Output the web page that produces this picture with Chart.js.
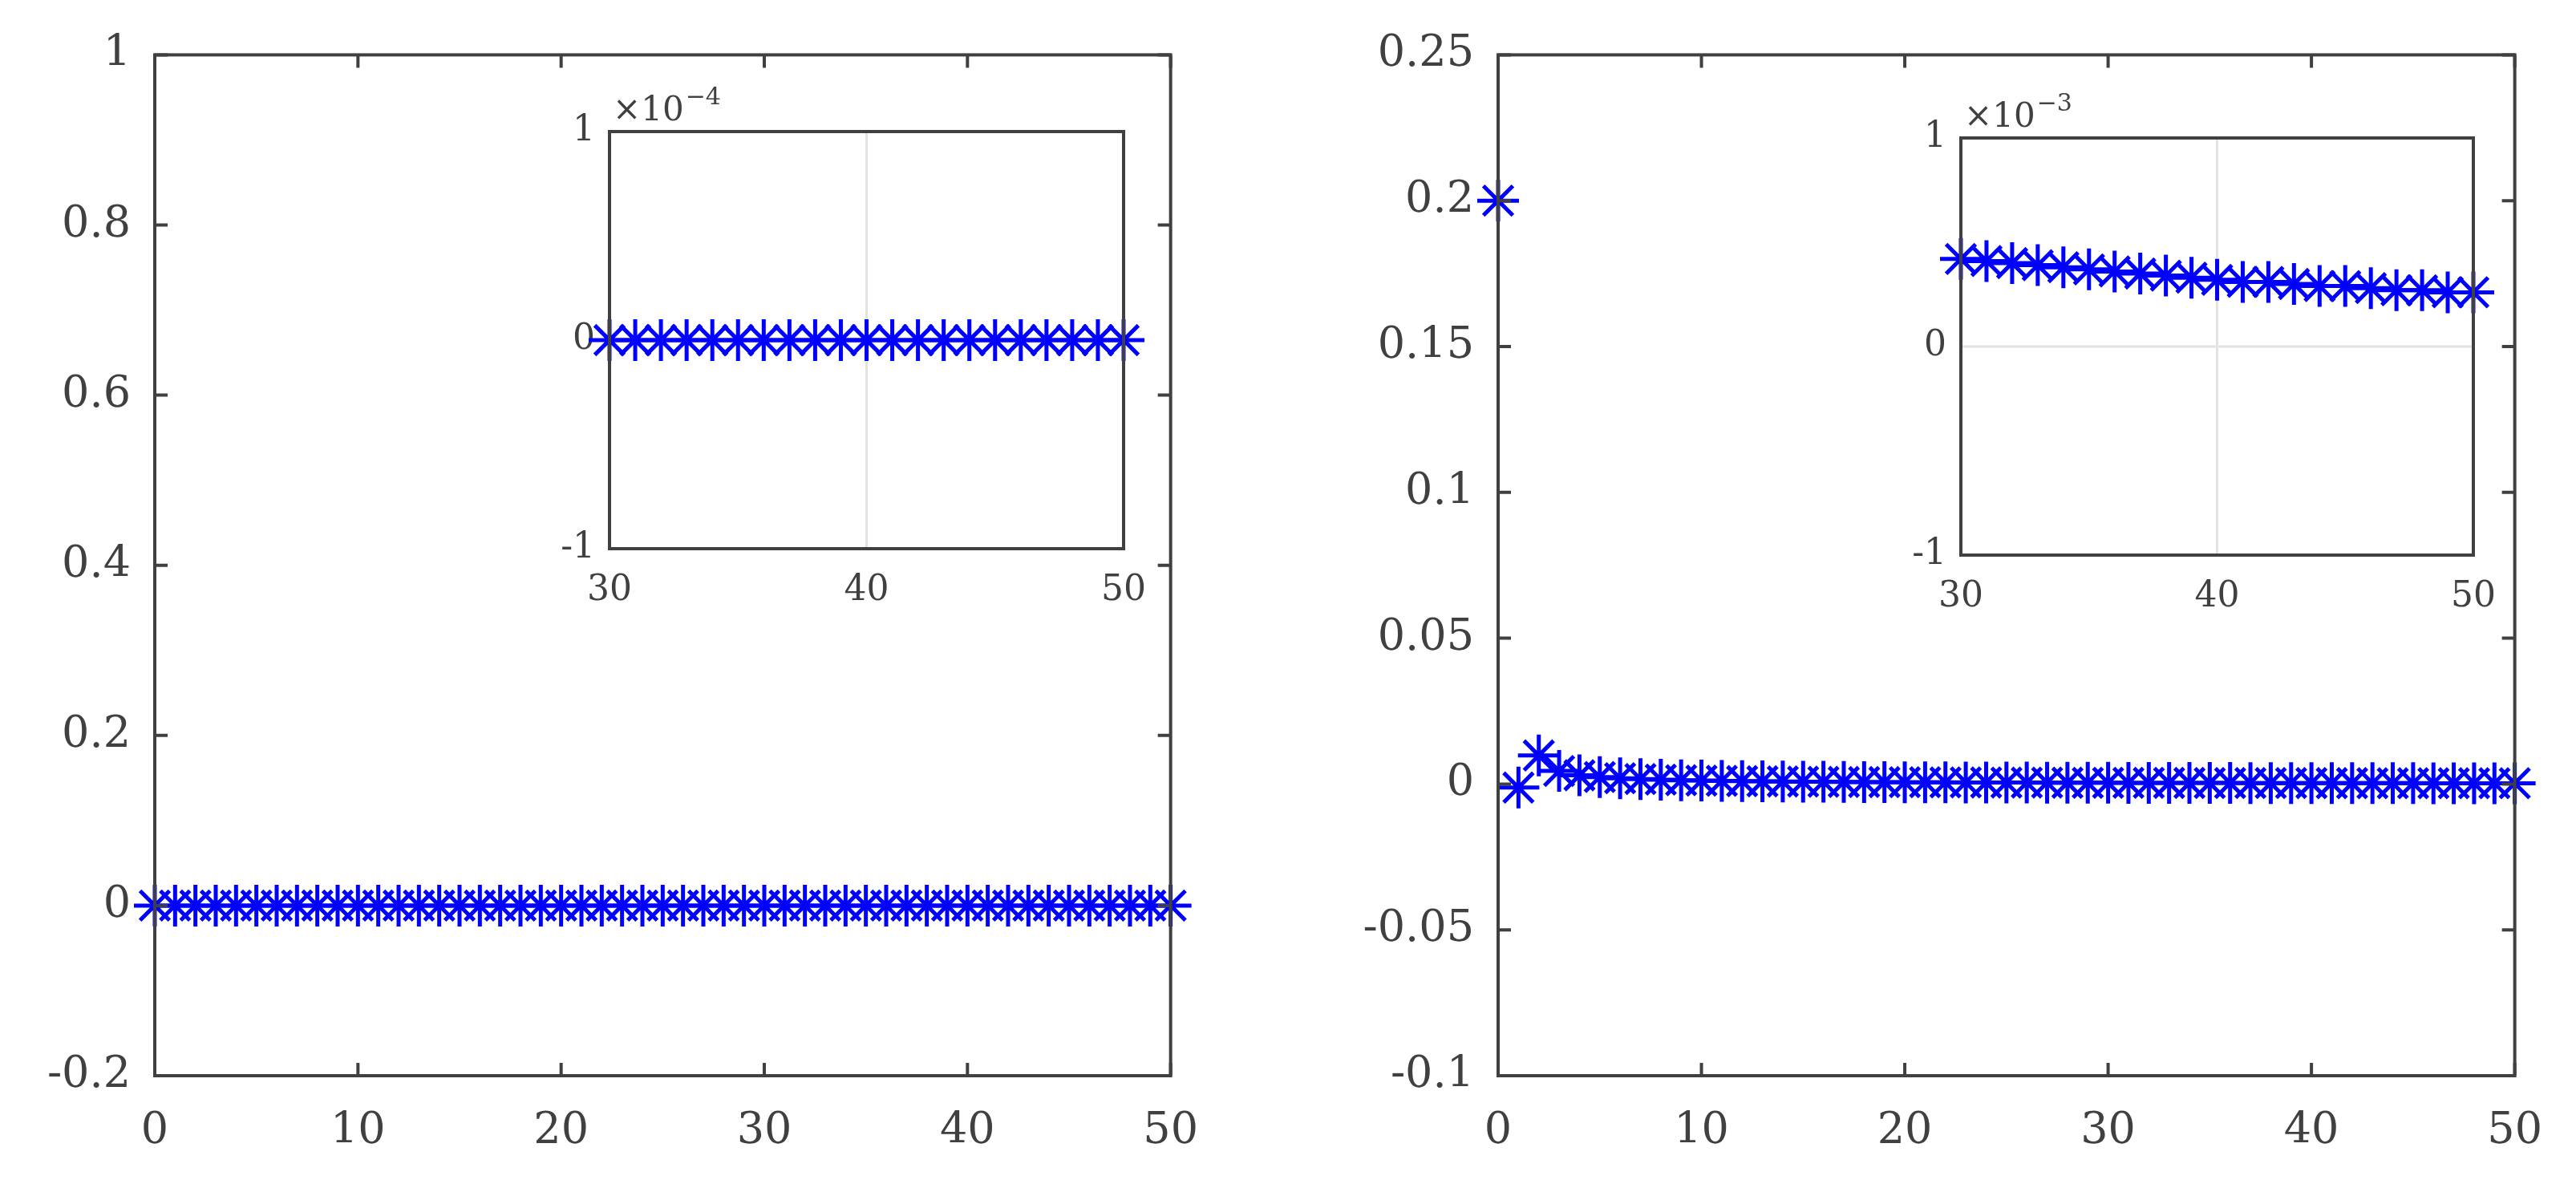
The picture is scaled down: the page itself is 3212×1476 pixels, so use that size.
<!DOCTYPE html>
<html lang="en">
<head>
<script src="https://cdn.jsdelivr.net/npm/chart.js@4.4.0/dist/chart.umd.min.js"></script>
<style>
  body { margin: 0; background: #fff; width: 3212px; height: 1476px; overflow: hidden; }
  canvas { position: absolute; }
</style>
</head>
<body>
<canvas id="mainLeft"></canvas>
<canvas id="mainRight"></canvas>
<canvas id="insetLeft"></canvas>
<canvas id="insetRight"></canvas>
<script>
// data
const steps = Array.from({length: 51}, (_, i) => i);
const leftValues = new Array(51).fill(0);
const rightValues = [0.2, -0.0012, 0.0098, 0.0045, 0.0030, 0.0024, 0.0020, 0.0017, 0.0015, 0.0013,
  0.0012, 0.0011, 0.00100, 0.00093, 0.00087, 0.00082, 0.00077, 0.00073, 0.00069, 0.00066,
  0.00062, 0.00060, 0.00057, 0.00055, 0.00053, 0.00051, 0.00049, 0.00047, 0.00045, 0.00044,
  0.00042, 0.00041, 0.00040, 0.00039, 0.00038, 0.00037, 0.00036, 0.00035, 0.00034, 0.00033,
  0.00032, 0.00031, 0.00031, 0.00030, 0.00029, 0.00029, 0.00028, 0.00027, 0.00027, 0.00026, 0.00026];
const leftTicksY = [-0.2, 0, 0.2, 0.4, 0.6, 0.8, 1];
const rightTicksY = [-0.1, -0.05, 0, 0.05, 0.1, 0.15, 0.2, 0.25];
const mainTicksX = [0, 10, 20, 30, 40, 50];
const insetTicksX = [30, 40, 50];
const insetTicksY = [-1, 0, 1];
const insetStart = 30;

Chart.defaults.font.family = "'DejaVu Serif', 'Liberation Serif', serif";
Chart.defaults.color = '#404040';
const AXIS = '#404040';

const framePlugin = {
  id: 'frame',
  beforeDraw(chart, args, o) {
    const a = chart.chartArea, c = chart.ctx;
    if (o.fill) { c.fillStyle = '#fff'; c.fillRect(a.left, a.top, a.right - a.left, a.bottom - a.top); }
    if (o.grid) {
      c.save(); c.strokeStyle = '#e3e3e3'; c.lineWidth = 3;
      o.gridX.forEach(v => { const p = chart.scales.x.getPixelForValue(v); c.beginPath(); c.moveTo(p, a.top); c.lineTo(p, a.bottom); c.stroke(); });
      o.gridY.forEach(v => { const p = chart.scales.y.getPixelForValue(v); c.beginPath(); c.moveTo(a.left, p); c.lineTo(a.right, p); c.stroke(); });
      c.restore();
    }
  },
  afterDraw(chart, args, o) {
    const a = chart.chartArea, c = chart.ctx;
    c.save();
    c.strokeStyle = AXIS; c.lineWidth = 4;
    if (o.ticks) {
      const L = 16;
      chart.scales.x.ticks.forEach(t => {
        const p = chart.scales.x.getPixelForValue(t.value);
        c.beginPath(); c.moveTo(p, a.bottom); c.lineTo(p, a.bottom - L); c.moveTo(p, a.top); c.lineTo(p, a.top + L); c.stroke();
      });
      chart.scales.y.ticks.forEach(t => {
        const p = chart.scales.y.getPixelForValue(t.value);
        c.beginPath(); c.moveTo(a.left, p); c.lineTo(a.left + L, p); c.moveTo(a.right, p); c.lineTo(a.right - L, p); c.stroke();
      });
    }
    c.strokeRect(a.left, a.top, a.right - a.left, a.bottom - a.top);
    if (o.exponent) {
      c.fillStyle = AXIS; c.textBaseline = 'alphabetic'; c.textAlign = 'left';
      c.font = "42px 'DejaVu Serif', serif";
      const x = a.left + 4, y = a.top - 14;
      c.fillText('×10', x, y);
      const w = c.measureText('×10').width;
      c.font = "30px 'DejaVu Serif', serif";
      c.fillText(o.exponent, x + w + 2, y - 20);
    }
    c.restore();
  }
};

function makeChart(id, rect, cfg) {
  const el = document.getElementById(id);
  el.style.left = rect.left + 'px'; el.style.top = rect.top + 'px';
  el.style.width = rect.width + 'px'; el.style.height = rect.height + 'px';
  el.width = rect.width; el.height = rect.height;
  const fmt = v => String(+v.toFixed(4));
  return new Chart(el, {
    type: 'scatter',
    data: { datasets: [{ data: cfg.xs.map((x, i) => ({x, y: cfg.ys[i]})),
      pointStyle: 'star', radius: cfg.radius, borderColor: '#0000ff', backgroundColor: '#0000ff',
      borderWidth: 5, showLine: false, clip: false }] },
    options: {
      responsive: false, animation: false, devicePixelRatio: 1,
      layout: { padding: { top: cfg.padTop, right: 60, left: 0, bottom: 0 } },
      plugins: { legend: { display: false }, tooltip: { enabled: false }, frame: cfg.frame },
      scales: {
        x: { type: 'linear', min: cfg.xTicks[0], max: cfg.xTicks[cfg.xTicks.length - 1],
          afterBuildTicks: s => { s.ticks = cfg.xTicks.map(v => ({value: v})); },
          afterFit: s => { s.height = cfg.xh; },
          grid: { display: false }, border: { display: false },
          ticks: { font: { size: cfg.fs }, padding: cfg.xpad, maxRotation: 0, callback: fmt } },
        y: { type: 'linear', min: cfg.yTicks[0], max: cfg.yTicks[cfg.yTicks.length - 1],
          afterBuildTicks: s => { s.ticks = cfg.yTicks.map(v => ({value: v})); },
          afterFit: s => { s.width = cfg.yw; },
          grid: { display: false }, border: { display: false },
          ticks: { font: { size: cfg.fs }, padding: cfg.ypad, callback: fmt } }
      }
    },
    plugins: [framePlugin]
  });
}

const insetXs = steps.slice(insetStart);

makeChart('mainLeft', {left: 0, top: 14, width: 1524, height: 1462}, {
  xs: steps, ys: leftValues, xTicks: mainTicksX, yTicks: leftTicksY, padTop: 40,
  yw: 193, xh: 135, fs: 54, xpad: 30, ypad: 22, radius: 26, frame: { ticks: true }
});
makeChart('mainRight', {left: 1668, top: 14, width: 1532, height: 1462}, {
  xs: steps, ys: rightValues, xTicks: mainTicksX, yTicks: rightTicksY, padTop: 40,
  yw: 200, xh: 135, fs: 54, xpad: 30, ypad: 22, radius: 26, frame: { ticks: true }
});
makeChart('insetLeft', {left: 700, top: 84, width: 761, height: 680}, {
  xs: insetXs, ys: leftValues.slice(insetStart).map(v => v * 1e4), xTicks: insetTicksX, yTicks: insetTicksY, padTop: 80,
  yw: 60, xh: 80, fs: 44, xpad: 18, ypad: 10, radius: 26,
  frame: { fill: true, grid: true, gridX: [40], gridY: [0], exponent: '−4' }
});
makeChart('insetRight', {left: 2385, top: 92, width: 759, height: 680}, {
  xs: insetXs, ys: rightValues.slice(insetStart).map(v => v * 1e3), xTicks: insetTicksX, yTicks: insetTicksY, padTop: 80,
  yw: 60, xh: 80, fs: 44, xpad: 18, ypad: 10, radius: 26,
  frame: { fill: true, grid: true, gridX: [40], gridY: [0], exponent: '−3' }
});
</script>
</body>
</html>
